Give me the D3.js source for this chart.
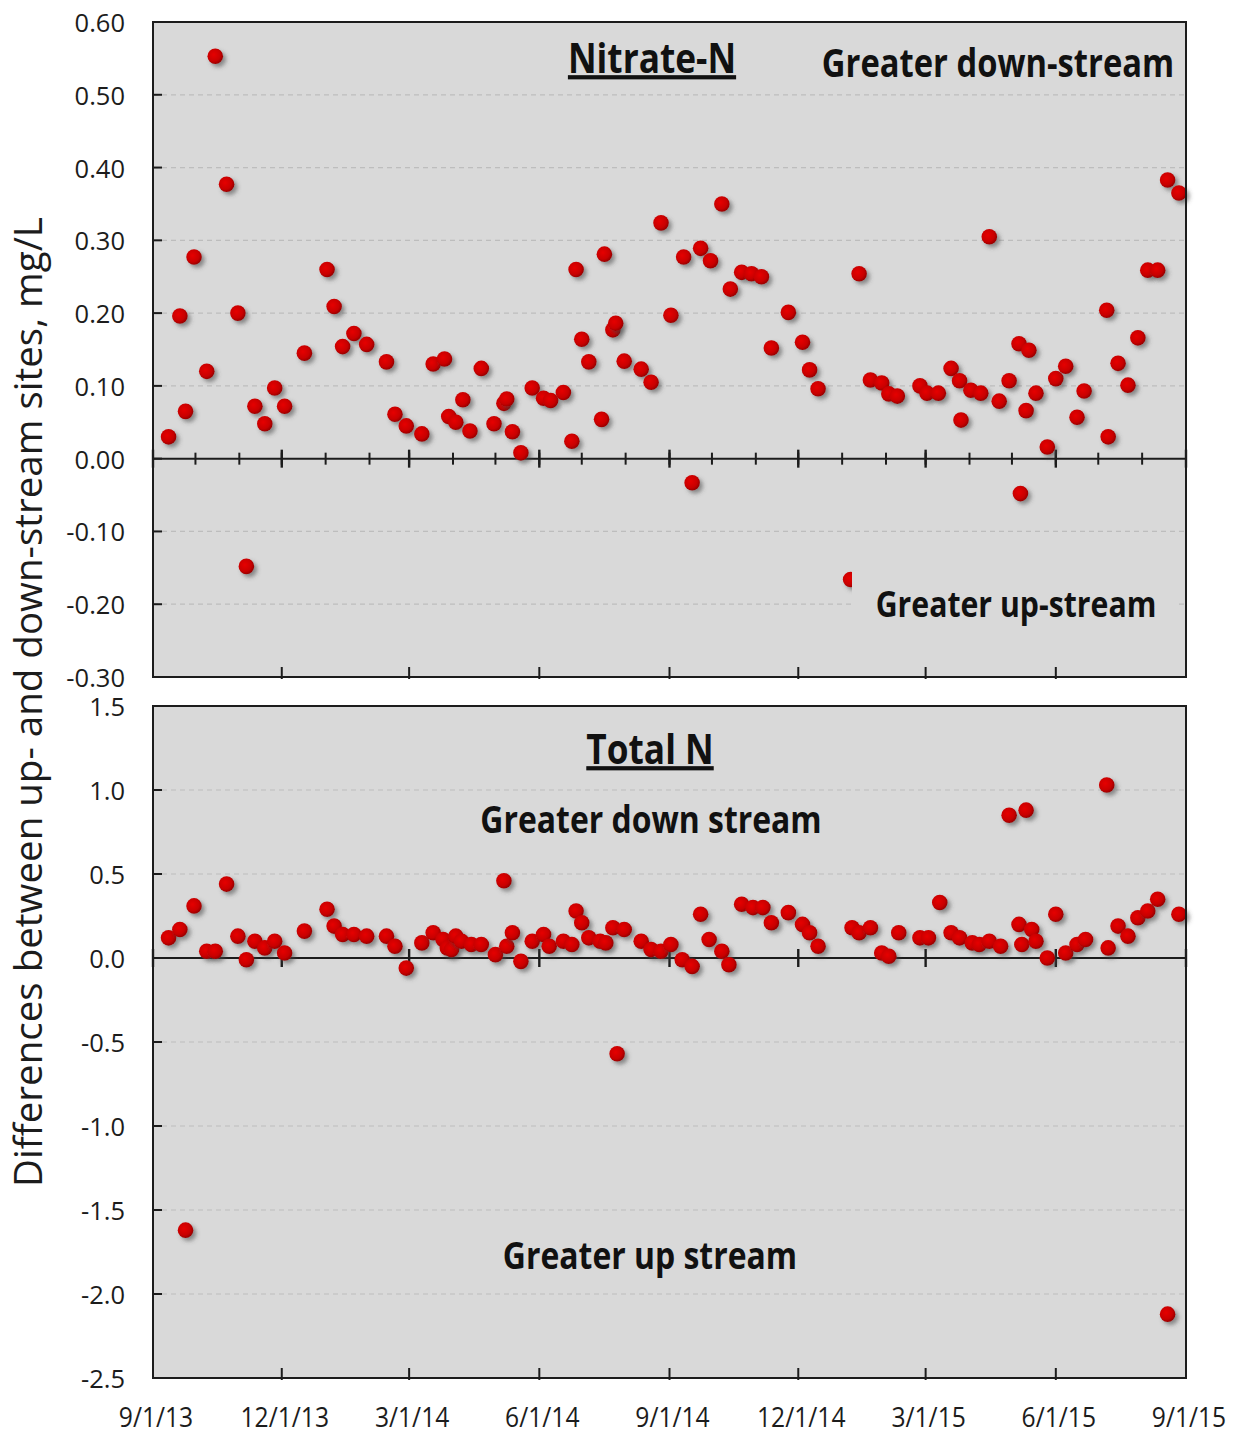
<!DOCTYPE html>
<html>
<head>
<meta charset="utf-8">
<script src="https://cdn.jsdelivr.net/npm/d3@7"></script>
<style>
  body { margin: 0; background: #fff; }
  svg { display: block; }
</style>
</head>
<body>
<script>
// sampling dates and differences (down-stream minus up-stream), mg/L
const nitrateDates = [
  "9/12/13", "9/20/13", "9/24/13", "9/30/13", "10/9/13", "10/15/13", "10/23/13", "10/31/13",
  "11/6/13", "11/12/13", "11/19/13", "11/26/13", "12/3/13", "12/17/13", "1/2/14", "1/7/14",
  "1/13/14", "1/21/14", "1/30/14", "2/13/14", "2/19/14", "2/27/14", "3/10/14", "3/18/14",
  "3/26/14", "3/29/14", "4/3/14", "4/8/14", "4/13/14", "4/21/14", "4/30/14", "5/7/14",
  "5/9/14", "5/13/14", "5/19/14", "5/27/14", "6/4/14", "6/9/14", "6/18/14", "6/24/14",
  "6/27/14", "7/1/14", "7/6/14", "7/15/14", "7/17/14", "7/23/14", "7/25/14", "7/31/14",
  "8/12/14", "8/19/14", "8/26/14", "9/2/14", "9/11/14", "9/17/14", "9/23/14", "9/30/14",
  "10/8/14", "10/14/14", "10/22/14", "10/29/14", "11/5/14", "11/12/14", "11/24/14", "12/4/14",
  "12/9/14", "12/15/14", "1/7/15", "1/13/15", "1/21/15", "1/29/15", "2/3/15", "2/9/15",
  "2/25/15", "3/2/15", "3/10/15", "3/19/15", "3/25/15", "3/26/15", "4/2/15", "4/9/15",
  "4/15/15", "4/22/15", "4/29/15", "5/6/15", "5/7/15", "5/11/15", "5/13/15", "5/18/15",
  "5/26/15", "6/1/15", "6/8/15", "6/16/15", "6/21/15", "7/7/15", "7/8/15", "7/15/15",
  "7/22/15", "7/29/15", "8/5/15", "8/12/15", "8/19/15", "8/27/15"
];
const nitrateDiff = [
  0.030, 0.196, 0.065, 0.277, 0.120, 0.553, 0.377, 0.200,
  -0.148, 0.072, 0.048, 0.097, 0.072, 0.145, 0.260, 0.209,
  0.154, 0.172, 0.157, 0.133, 0.061, 0.045, 0.034, 0.130,
  0.137, 0.058, 0.050, 0.081, 0.038, 0.124, 0.048, 0.076,
  0.082, 0.037, 0.008, 0.097, 0.083, 0.080, 0.091, 0.024,
  0.260, 0.164, 0.133, 0.054, 0.281, 0.177, 0.186, 0.134,
  0.123, 0.105, 0.324, 0.197, 0.277, -0.033, 0.289, 0.272,
  0.350, 0.233, 0.256, 0.254, 0.250, 0.152, 0.201, 0.160,
  0.122, 0.096, -0.166, 0.254, 0.108, 0.104, 0.089, 0.086,
  0.100, 0.090, 0.090, 0.124, 0.107, 0.053, 0.094, 0.090,
  0.305, 0.079, 0.107, 0.158, -0.048, 0.066, 0.149, 0.090,
  0.016, 0.110, 0.127, 0.057, 0.093, 0.204, 0.030, 0.131,
  0.101, 0.166, 0.259, 0.259, 0.383, 0.365
];

const totalNDates = [
  "9/12/13", "9/20/13", "9/24/13", "9/30/13", "10/9/13", "10/15/13", "10/23/13", "10/31/13",
  "11/6/13", "11/12/13", "11/19/13", "11/26/13", "12/3/13", "12/17/13", "1/2/14", "1/7/14",
  "1/13/14", "1/21/14", "1/30/14", "2/13/14", "2/19/14", "2/27/14", "3/10/14", "3/18/14",
  "3/25/14", "3/28/14", "3/31/14", "4/3/14", "4/7/14", "4/14/14", "4/21/14", "5/1/14",
  "5/7/14", "5/9/14", "5/13/14", "5/19/14", "5/27/14", "6/4/14", "6/8/14", "6/18/14",
  "6/24/14", "6/27/14", "7/1/14", "7/6/14", "7/14/14", "7/18/14", "7/23/14", "7/26/14",
  "7/31/14", "8/12/14", "8/19/14", "8/26/14", "9/2/14", "9/10/14", "9/17/14", "9/23/14",
  "9/29/14", "10/8/14", "10/13/14", "10/22/14", "10/30/14", "11/6/14", "11/12/14", "11/24/14",
  "12/4/14", "12/9/14", "12/15/14", "1/8/15", "1/13/15", "1/21/15", "1/29/15", "2/3/15",
  "2/10/15", "2/25/15", "3/3/15", "3/11/15", "3/19/15", "3/25/15", "4/3/15", "4/8/15",
  "4/15/15", "4/23/15", "4/29/15", "5/6/15", "5/8/15", "5/11/15", "5/15/15", "5/18/15",
  "5/26/15", "6/1/15", "6/8/15", "6/16/15", "6/22/15", "7/7/15", "7/8/15", "7/15/15",
  "7/22/15", "7/29/15", "8/5/15", "8/12/15", "8/19/15", "8/27/15"
];
const totalNDiff = [
  0.12, 0.17, -1.62, 0.31, 0.04, 0.04, 0.44, 0.13,
  -0.01, 0.10, 0.06, 0.10, 0.03, 0.16, 0.29, 0.19,
  0.14, 0.14, 0.13, 0.13, 0.07, -0.06, 0.09, 0.15,
  0.11, 0.06, 0.05, 0.13, 0.10, 0.08, 0.08, 0.02,
  0.46, 0.07, 0.15, -0.02, 0.10, 0.14, 0.07, 0.10,
  0.08, 0.28, 0.21, 0.12, 0.10, 0.09, 0.18, -0.57,
  0.17, 0.10, 0.05, 0.04, 0.08, -0.01, -0.05, 0.26,
  0.11, 0.04, -0.04, 0.32, 0.30, 0.30, 0.21, 0.27,
  0.20, 0.15, 0.07, 0.18, 0.15, 0.18, 0.03, 0.01,
  0.15, 0.12, 0.12, 0.33, 0.15, 0.12, 0.09, 0.08,
  0.10, 0.07, 0.85, 0.20, 0.08, 0.88, 0.17, 0.10,
  0.00, 0.26, 0.03, 0.08, 0.11, 1.03, 0.06, 0.19,
  0.13, 0.24, 0.28, 0.35, -2.12, 0.26
];

const nitrateTicks = [0.6, 0.5, 0.4, 0.3, 0.2, 0.1, 0.0, -0.1, -0.2, -0.3];
const totalNTicks = [1.5, 1.0, 0.5, 0.0, -0.5, -1.0, -1.5, -2.0, -2.5];
const dateRange = ["9/1/13", "9/1/15"];

const parseDate = d3.timeParse("%m/%d/%y");
const fmtDate = d3.timeFormat("%-m/%-d/%y");
// plain hyphen for negatives, as in the original
const locale = d3.formatLocale({ decimal: ".", thousands: ",", grouping: [3], currency: ["", ""], minus: "-" });

const W = 1237, H = 1435;
const left = 153, right = 1186;
const INK = "#1c1c1c";
const PLOT_BG = "#d9d9d9";
const SQUEEZE = 0.84; // narrow the bold labels a bit (no condensed font available)

const svg = d3.select("body").append("svg")
  .attr("width", W)
  .attr("height", H);

// dot shading + drop shadow
const defs = svg.append("defs");
const grad = defs.append("radialGradient")
  .attr("id", "dotFill")
  .attr("cx", "40%").attr("cy", "40%").attr("r", "60%");
grad.append("stop").attr("offset", "0%").attr("stop-color", "#e60000");
grad.append("stop").attr("offset", "70%").attr("stop-color", "#c80000");
grad.append("stop").attr("offset", "100%").attr("stop-color", "#9a0000");
const shadow = defs.append("filter")
  .attr("id", "dotShadow")
  .attr("x", "-50%").attr("y", "-50%").attr("width", "200%").attr("height", "200%");
shadow.append("feDropShadow")
  .attr("dx", 3).attr("dy", 3)
  .attr("stdDeviation", 2)
  .attr("flood-color", "#444")
  .attr("flood-opacity", 0.55);

const x = d3.scaleTime()
  .domain(dateRange.map(parseDate))
  .range([left, right]);

const end = d3.timeDay.offset(parseDate(dateRange[1]), 1);
const minorDates = d3.timeMonth.range(parseDate(dateRange[0]), end);
const majorDates = minorDates.filter((d, i) => i % 3 === 0);

function drawPanel(cfg) {
  const y = d3.scaleLinear().domain(cfg.domain).range([cfg.bottom, cfg.top]);
  const g = svg.append("g");

  g.append("rect")
    .attr("x", left).attr("y", cfg.top)
    .attr("width", right - left).attr("height", cfg.bottom - cfg.top)
    .attr("fill", PLOT_BG);

  // dashed gridlines (not on frame or zero line)
  g.selectAll("line.grid")
    .data(cfg.ticks.filter(t => t !== 0 && t !== cfg.domain[0] && t !== cfg.domain[1]))
    .enter().append("line")
    .attr("class", "grid")
    .attr("x1", left).attr("x2", right)
    .attr("y1", d => y(d)).attr("y2", d => y(d))
    .attr("stroke", "#bdbdbd")
    .attr("stroke-width", 1.2)
    .attr("stroke-dasharray", "5,4");

  // y ticks + labels
  g.selectAll("line.ytick")
    .data(cfg.ticks)
    .enter().append("line")
    .attr("x1", left).attr("x2", left + 9)
    .attr("y1", d => y(d)).attr("y2", d => y(d))
    .attr("stroke", INK).attr("stroke-width", 2);

  g.selectAll("text.ylab")
    .data(cfg.ticks)
    .enter().append("text")
    .attr("x", 125)
    .attr("y", d => y(d))
    .attr("text-anchor", "end")
    .attr("dominant-baseline", "central")
    .attr("font-family", "'Open Sans', sans-serif")
    .attr("font-size", "25.5px")
    .attr("fill", INK)
    .text(d => locale.format(cfg.fmt)(d));

  // zero line with ticks
  const y0 = y(0);
  if (cfg.minor) {
    g.selectAll("line.minor")
      .data(minorDates)
      .enter().append("line")
      .attr("x1", d => x(d)).attr("x2", d => x(d))
      .attr("y1", y0 - 6).attr("y2", y0 + 6)
      .attr("stroke", INK).attr("stroke-width", 2);
  }
  g.selectAll("line.major")
    .data(majorDates)
    .enter().append("line")
    .attr("x1", d => x(d)).attr("x2", d => x(d))
    .attr("y1", y0 - 9).attr("y2", y0 + 9)
    .attr("stroke", INK).attr("stroke-width", 2.4);
  g.append("line")
    .attr("x1", left).attr("x2", right)
    .attr("y1", y0).attr("y2", y0)
    .attr("stroke", INK).attr("stroke-width", 2);

  // ticks on bottom frame
  g.selectAll("line.btick")
    .data(majorDates.slice(1, -1))
    .enter().append("line")
    .attr("x1", d => x(d)).attr("x2", d => x(d))
    .attr("y1", cfg.bottom + 2).attr("y2", cfg.bottom - 10)
    .attr("stroke", INK).attr("stroke-width", 2);

  // points
  const pts = cfg.dates.map((d, i) => ({ date: parseDate(d), value: cfg.values[i] }));
  g.append("g")
    .selectAll("circle")
    .data(pts)
    .enter().append("circle")
    .attr("cx", d => x(d.date))
    .attr("cy", d => y(d.value))
    .attr("r", 7.8)
    .attr("fill", "url(#dotFill)")
    .attr("filter", "url(#dotShadow)");

  // annotations
  cfg.notes.forEach(n => {
    if (n.box) {
      g.append("rect")
        .attr("x", n.box[0]).attr("y", n.box[1])
        .attr("width", n.box[2]).attr("height", n.box[3])
        .attr("fill", PLOT_BG);
    }
    g.append("text")
      .attr("transform", `translate(${n.x},${n.y}) scale(${SQUEEZE},1)`)
      .attr("text-anchor", "middle")
      .attr("font-family", "'Open Sans', sans-serif")
      .attr("font-weight", "bold")
      .attr("font-size", n.size + "px")
      .attr("fill", "#111")
      .style("text-decoration", n.underline ? "underline" : "none")
      .text(n.text);
  });

  // frame
  g.append("rect")
    .attr("x", left).attr("y", cfg.top)
    .attr("width", right - left).attr("height", cfg.bottom - cfg.top)
    .attr("fill", "none")
    .attr("stroke", INK)
    .attr("stroke-width", 2);

  return y;
}

drawPanel({
  top: 22, bottom: 677,
  domain: [-0.3, 0.6],
  ticks: nitrateTicks,
  fmt: ".2f",
  minor: true,
  dates: nitrateDates,
  values: nitrateDiff,
  notes: [
    { text: "Nitrate-N", x: 652, y: 73, size: 42, underline: true },
    { text: "Greater down-stream", x: 998, y: 77, size: 39 },
    { text: "Greater up-stream", x: 1016, y: 617, size: 36, box: [852, 571, 325, 62] }
  ]
});

drawPanel({
  top: 706, bottom: 1378,
  domain: [-2.5, 1.5],
  ticks: totalNTicks,
  fmt: ".1f",
  minor: false,
  dates: totalNDates,
  values: totalNDiff,
  notes: [
    { text: "Total N", x: 650, y: 764, size: 42, underline: true },
    { text: "Greater down stream", x: 651, y: 833, size: 38 },
    { text: "Greater up stream", x: 650, y: 1269, size: 38 }
  ]
});

// x labels under the bottom panel
svg.append("g")
  .selectAll("text")
  .data(majorDates)
  .enter().append("text")
  .attr("transform", d => `translate(${x(d) + 3},1427) scale(0.88,1)`)
  .attr("text-anchor", "middle")
  .attr("font-family", "'Open Sans', sans-serif")
  .attr("font-size", "28px")
  .attr("fill", INK)
  .text(d => fmtDate(d));

// y axis title
svg.append("text")
  .attr("transform", "translate(42,702) rotate(-90)")
  .attr("text-anchor", "middle")
  .attr("font-family", "'Open Sans', sans-serif")
  .attr("font-size", "38.5px")
  .attr("fill", INK)
  .text("Differences between up- and down-stream sites, mg/L");
</script>
</body>
</html>
